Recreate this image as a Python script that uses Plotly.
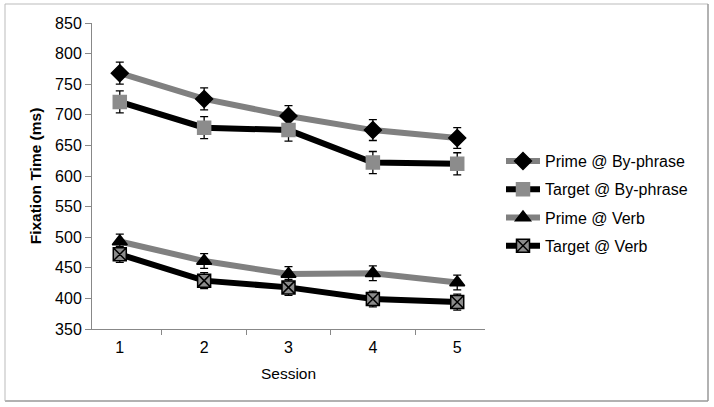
import plotly.graph_objects as go

sessions = ["1", "2", "3", "4", "5"]
prime_by = [768, 726, 698, 675, 662]
prime_by_err = [18, 18, 17, 17, 17]
target_by = [721, 679, 675, 622, 620]
target_by_err = [18, 18, 18, 18, 18]
prime_verb = [493, 461, 440, 441, 426]
prime_verb_err = [12, 12, 12, 12, 12]
target_verb = [472, 429, 418, 399, 394]
target_verb_err = [13, 13, 13, 13, 13]

GRAY = "#808080"
FONT = "Liberation Sans, Arial, sans-serif"

series = [
    ("Prime @ By-phrase", prime_by, prime_by_err, GRAY, "diamond", "black", 13, "black"),
    ("Target @ By-phrase", target_by, target_by_err, "black", "square", "#8c8c8c", 13, "#8c8c8c"),
    ("Prime @ Verb", prime_verb, prime_verb_err, GRAY, "triangle-up", "black", 13, "black"),
    ("Target @ Verb", target_verb, target_verb_err, "black", "square-x", "#8c8c8c", 13, "black"),
]

L, R, T, B = 92, 485, 23, 329
W, H = R - L, B - T


def px(x):
    return (x - L) / W


def py(y):
    return (B - y) / H


fig = go.Figure()
for i, (name, vals, err, lc, sym, mc, ms, mlc) in enumerate(series):
    fig.add_trace(go.Scatter(
        x=sessions, y=vals, name=name, mode="lines+markers",
        line=dict(color=lc, width=6),
        marker=dict(symbol=sym, color=mc, size=ms, line=dict(color=mlc, width=1.5)),
        error_y=dict(type="data", array=err, visible=True, color="black",
                     thickness=1.3, width=4),
        legendgroup=f"g{i}",
    ))

fig.update_layout(
    width=714, height=407,
    margin=dict(l=L, r=714 - R, t=T, b=407 - B, autoexpand=False),
    paper_bgcolor="white", plot_bgcolor="white",
    font=dict(family=FONT, size=16, color="black"),
    showlegend=True,
    legend=dict(x=px(501), y=py(203.5), xanchor="left", yanchor="middle",
                font=dict(size=16, family=FONT), tracegroupgap=4.5,
                itemwidth=34, bgcolor="rgba(0,0,0,0)"),
    xaxis=dict(type="category", tickson="boundaries", ticks="outside",
               ticklen=5, tickcolor="#888", showline=True, linecolor="#888",
               linewidth=1, showgrid=False, zeroline=False,
               ticklabelstandoff=4,
               title=dict(text="Session", font=dict(size=15.5), standoff=12),
               tickfont=dict(size=16)),
    yaxis=dict(range=[350, 850], dtick=50, ticks="outside", ticklen=6,
               tickcolor="#888", showline=True, linecolor="#888", linewidth=1,
               showgrid=False, zeroline=False, tickfont=dict(size=16),
               title=dict(text="<b>Fixation Time (ms)</b>", font=dict(size=15.5), standoff=9)),
    shapes=[
        dict(type="line", xref="paper", yref="paper",
             x0=px(5), x1=px(708), y0=py(4), y1=py(4),
             line=dict(color="#dddddd", width=2)),
        dict(type="line", xref="paper", yref="paper",
             x0=px(708), x1=px(708), y0=py(4), y1=py(401),
             line=dict(color="#999999", width=1.5)),
        dict(type="line", xref="paper", yref="paper",
             x0=px(5), x1=px(708), y0=py(401), y1=py(401),
             line=dict(color="#999999", width=1.5)),
        dict(type="line", xref="paper", yref="paper",
             x0=px(5), x1=px(5), y0=py(4), y1=py(401),
             line=dict(color="#bbbbbb", width=1)),
    ],
)

fig.write_html("out.html", config={"displayModeBar": False},
               post_script="document.body.style.margin='0';")
